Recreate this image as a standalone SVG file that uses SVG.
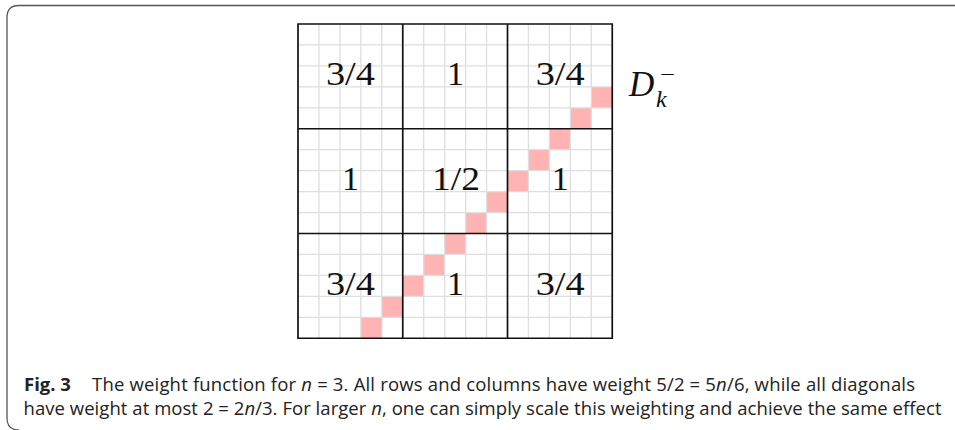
<svg xmlns="http://www.w3.org/2000/svg" width="955" height="430" viewBox="0 0 955 430">
<style>
.pink{fill:#ffb3b3;stroke:none}
.thin{stroke:#dedede;stroke-width:1.3;fill:none}
.thick{stroke:#111;stroke-width:1.7;fill:none}
.lab{font-family:"Liberation Serif","DejaVu Serif",serif;font-size:34px;fill:#111;text-anchor:middle}
.math{font-family:"Liberation Serif","DejaVu Serif",serif;fill:#111}
.cap{font-family:"Open Sans","Noto Sans",sans-serif;font-size:18.5px;fill:#222}
.frame{fill:none;stroke:#555;stroke-width:1.3}
</style>
<rect width="955" height="430" fill="#fff"/>
<path class="frame" d="M955,5.5 H19 Q7,5.5 7,17.5 V418 Q7,430 19,430"/>
<g id="diagonal">
<rect class="pink" x="360.85" y="317.3" width="20.95" height="20.95"/>
<rect class="pink" x="381.8" y="296.35" width="20.95" height="20.95"/>
<rect class="pink" x="402.75" y="275.4" width="20.95" height="20.95"/>
<rect class="pink" x="423.7" y="254.45" width="20.95" height="20.95"/>
<rect class="pink" x="444.65" y="233.5" width="20.95" height="20.95"/>
<rect class="pink" x="465.6" y="212.55" width="20.95" height="20.95"/>
<rect class="pink" x="486.55" y="191.6" width="20.95" height="20.95"/>
<rect class="pink" x="507.5" y="170.65" width="20.95" height="20.95"/>
<rect class="pink" x="528.45" y="149.7" width="20.95" height="20.95"/>
<rect class="pink" x="549.4" y="128.75" width="20.95" height="20.95"/>
<rect class="pink" x="570.35" y="107.8" width="20.95" height="20.95"/>
<rect class="pink" x="591.3" y="86.85" width="20.95" height="20.95"/>
</g>
<g id="grid">
<path class="thin" d="M318.95,24V338.25M339.9,24V338.25M360.85,24V338.25M381.8,24V338.25M423.7,24V338.25M444.65,24V338.25M465.6,24V338.25M486.55,24V338.25M528.45,24V338.25M549.4,24V338.25M570.35,24V338.25M591.3,24V338.25
M298,44.95H612.25M298,65.9H612.25M298,86.85H612.25M298,107.8H612.25M298,149.7H612.25M298,170.65H612.25M298,191.6H612.25M298,212.55H612.25M298,254.45H612.25M298,275.4H612.25M298,296.35H612.25M298,317.3H612.25"/>
<path class="thick" d="M298,24H612.25V338.25H298Z M402.75,24V338.25M507.5,24V338.25M298,128.75H612.25M298,233.5H612.25"/>
</g>
<g id="block-0-0"><text class="lab" x="350.4" y="85" textLength="49" lengthAdjust="spacingAndGlyphs">3/4</text></g>
<g id="block-0-1"><text class="lab" x="455.4" y="85">1</text></g>
<g id="block-0-2"><text class="lab" x="560.2" y="85" textLength="49" lengthAdjust="spacingAndGlyphs">3/4</text></g>
<g id="block-1-0"><text class="lab" x="350.4" y="190">1</text></g>
<g id="block-1-1"><text class="lab" x="456" y="190" textLength="48" lengthAdjust="spacingAndGlyphs">1/2</text></g>
<g id="block-1-2"><text class="lab" x="560.2" y="190">1</text></g>
<g id="block-2-0"><text class="lab" x="350.4" y="295" textLength="49" lengthAdjust="spacingAndGlyphs">3/4</text></g>
<g id="block-2-1"><text class="lab" x="455.4" y="295">1</text></g>
<g id="block-2-2"><text class="lab" x="560.2" y="295" textLength="49" lengthAdjust="spacingAndGlyphs">3/4</text></g>
<g id="label-D">
<text class="math" x="629" y="96" font-size="35" font-style="italic">D</text>
<text class="math" x="660" y="80.5" font-size="20" textLength="15" lengthAdjust="spacingAndGlyphs">−</text>
<text class="math" x="656" y="107" font-size="24" font-style="italic">k</text>
</g>
<g id="caption">
<text class="cap" x="24" y="391" font-weight="bold">Fig. 3</text>
<text class="cap" x="92" y="391" textLength="823" lengthAdjust="spacing">The weight function for <tspan font-style="italic">n</tspan> = 3. All rows and columns have weight 5/2 = 5<tspan font-style="italic">n</tspan>/6, while all diagonals</text>
<text class="cap" x="23.5" y="414.5" textLength="918" lengthAdjust="spacing">have weight at most 2 = 2<tspan font-style="italic">n</tspan>/3. For larger <tspan font-style="italic">n</tspan>, one can simply scale this weighting and achieve the same effect</text>
</g>
</svg>
